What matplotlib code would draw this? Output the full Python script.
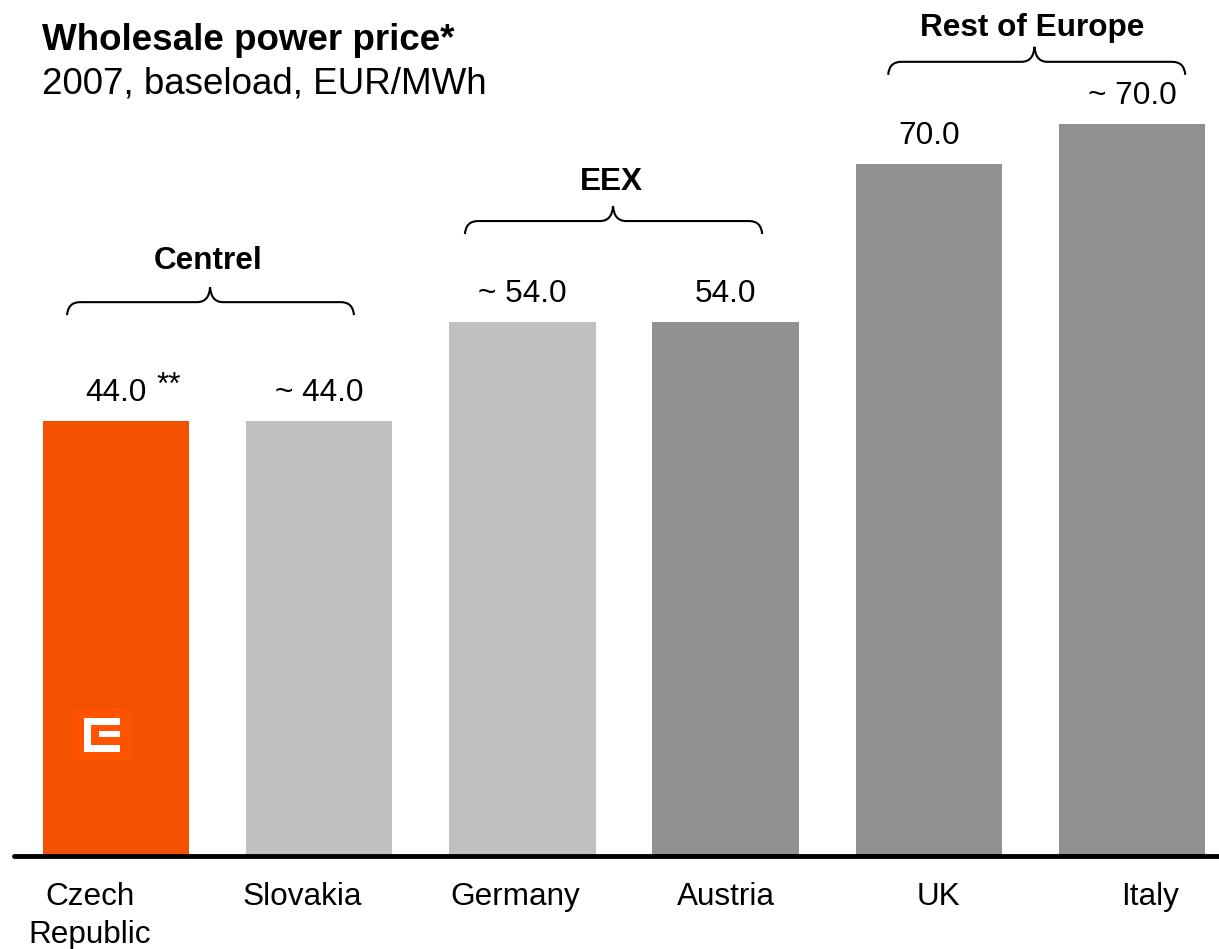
import matplotlib
matplotlib.use("Agg")
import matplotlib.pyplot as plt
from matplotlib.path import Path
from matplotlib.patches import PathPatch, Rectangle
import matplotlib.transforms as mtransforms

plt.rcParams['font.family'] = ['Liberation Sans', 'DejaVu Sans']

# ---- data ----
categories = ["Czech\nRepublic", "Slovakia", "Germany", "Austria", "UK", "Italy"]
values = [44.0, 44.0, 54.0, 54.0, 70.0, 74.0]
value_labels = ["44.0", "~ 44.0", "~ 54.0", "54.0", "70.0", "~ 70.0"]
groups = ["Centrel", "EEX", "Rest of Europe"]
group_members = [[0, 1], [2, 3], [4, 5]]

# ---- style ----
ORANGE = "#F25100"
LIGHT = "#C0C0C0"
DARK = "#919191"
bar_colors = [ORANGE, LIGHT, LIGHT, DARK, DARK, DARK]
label_offsets = [-0.128, -0.084, -0.034, 0.0, 0.047, 0.089]
group_span = [(-0.241, 1.171), (1.717, 3.180), (3.800, 5.262)]
group_tip = [0.463, 2.446, 4.520]
group_brace_y = [56.0, 64.2, 80.3]
group_label_y = [60.2, 68.1, 83.7]

W, H = 1219, 949
fig = plt.figure(figsize=(W / 100, H / 100), dpi=100)
ax = fig.add_axes([14 / W, 93 / H, (W - 14) / W, 856 / H])
ax.set_xlim(-0.502, 5.428)
ax.set_ylim(0, 86.55)
ax.axis("off")

x = list(range(len(categories)))
ax.bar(x, values, width=0.72, color=bar_colors, zorder=2)
ax.plot([-0.502, 5.428], [0, 0], color="black", lw=3.5,
        solid_capstyle="round", clip_on=False, zorder=3)

FS = 22.7
for i, (v, lab) in enumerate(zip(values, value_labels)):
    ax.annotate(lab, (i, v), xytext=(0, 20.2), textcoords="offset points",
                ha="center", va="center", fontsize=FS)
ax.annotate("**", (0, values[0]), xytext=(38, 19.4), textcoords="offset points",
            ha="center", va="baseline", fontsize=FS)

for i, c in enumerate(categories):
    ax.text(i + label_offsets[i], -2.6, c, ha="center", va="top",
            fontsize=FS, multialignment="center", linespacing=1.34,
            clip_on=False)

# braces, drawn in pixel offsets around data anchor points
def brace(x0, x1, xm, y):
    p0 = ax.transData.transform((x0, y))
    p1 = ax.transData.transform((x1, y))
    pm = ax.transData.transform((xm, y))
    yb = p0[1]
    dn, up, r = 13, 15, 13
    verts = [(p0[0], yb - dn), (p0[0] + 1, yb), (p0[0] + r, yb),
             (pm[0] - r, yb), (pm[0] - 1, yb), (pm[0], yb + up),
             (pm[0] + 1, yb), (pm[0] + r, yb),
             (p1[0] - r, yb), (p1[0] - 1, yb), (p1[0], yb - dn)]
    codes = [Path.MOVETO, Path.CURVE3, Path.CURVE3,
             Path.LINETO, Path.CURVE3, Path.CURVE3,
             Path.CURVE3, Path.CURVE3,
             Path.LINETO, Path.CURVE3, Path.CURVE3]
    patch = PathPatch(Path(verts, codes), fill=False, lw=1.5, color="black",
                      transform=mtransforms.IdentityTransform(), clip_on=False)
    fig.add_artist(patch)

for g, (s, e), tip, by, ly in zip(groups, group_span, group_tip,
                                  group_brace_y, group_label_y):
    brace(s, e, tip, by)
    ax.text(tip - 0.01, ly, g, ha="center", va="center", fontsize=FS,
            fontweight="bold", clip_on=False)

# title
fig.text(42 / W, 1 - 40 / H, "Wholesale power price*", fontsize=26.5,
         fontweight="bold", ha="left", va="center")
fig.text(42 / W, 1 - 84 / H, "2007, baseload, EUR/MWh", fontsize=26.5,
         ha="left", va="center")

# logo (pixel coordinates of the image, y from top)
px = mtransforms.Affine2D().scale(1 / W, -1 / H).translate(0, 1) + fig.transFigure
def rect(x0, y0, x1, y1, col):
    fig.add_artist(Rectangle((x0, y0), x1 - x0, y1 - y0, color=col,
                             transform=px, lw=0))
rect(73, 708, 131, 760, "#FF5300")
rect(84, 718, 120, 725, "white")
rect(84, 745, 120, 752, "white")
rect(84, 718, 91, 752, "white")
rect(99, 731, 120, 737, "white")

fig.savefig("out.png", dpi=100)
